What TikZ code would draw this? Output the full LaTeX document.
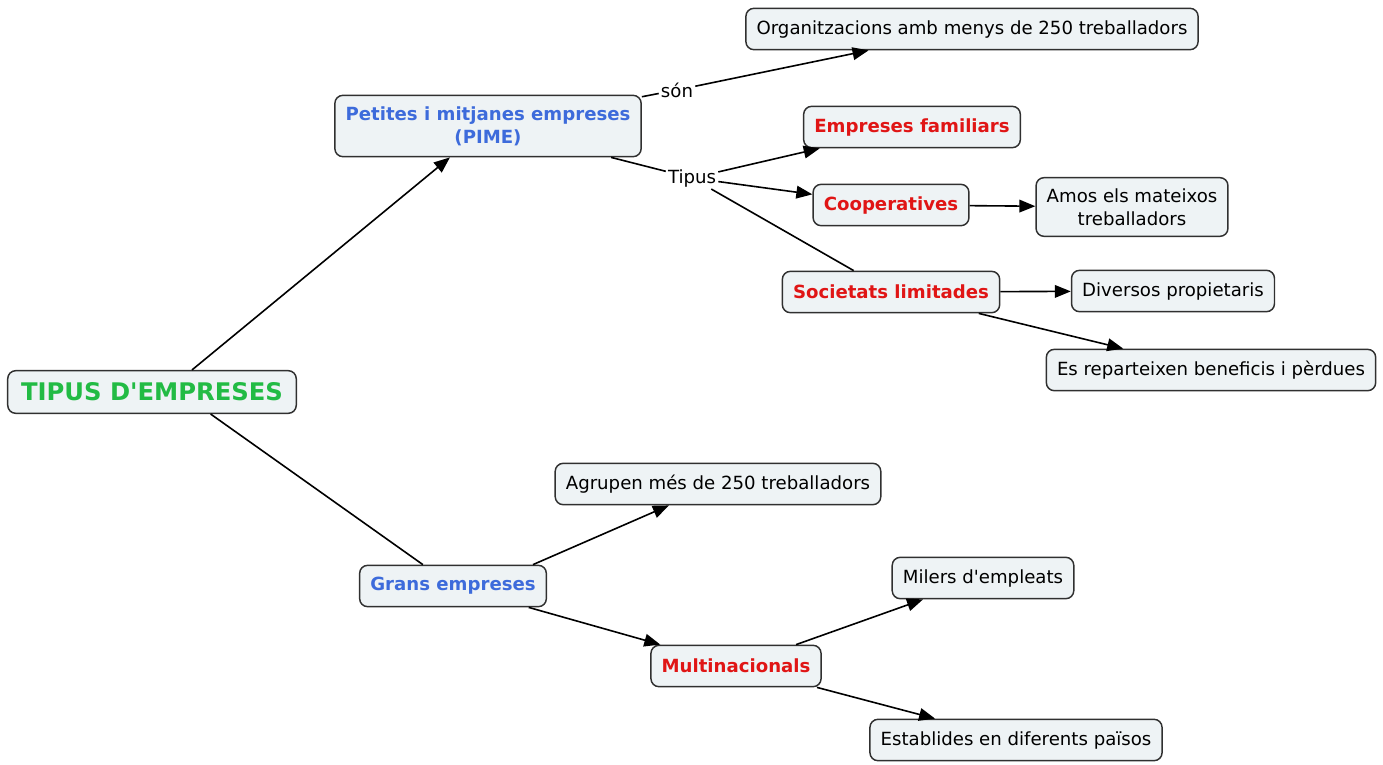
\documentclass[tikz,border=0pt]{standalone}
\usepackage{fontspec}
\setmainfont{DejaVu Sans}
\usetikzlibrary{arrows.meta}
\usepackage{xcolor}
\definecolor{boxfill}{HTML}{EEF3F5}
\definecolor{boxline}{HTML}{303030}
\definecolor{rootgreen}{HTML}{22BB44}
\definecolor{groupblue}{HTML}{3D6BDB}
\definecolor{typered}{HTML}{E01515}

\begin{document}
\begin{tikzpicture}[x=0.75pt, y=-0.75pt,
    concept/.style={draw=boxline, line width=1.1pt, rounded corners=6pt, fill=boxfill, inner xsep=8pt, minimum height=31pt, align=center, font=\fontsize{13.6}{17}\selectfont},
    twoline/.style={minimum height=46pt},
    root/.style={concept, font=\fontsize{18.2}{22}\selectfont\bfseries, text=rootgreen, minimum height=32pt, inner xsep=10pt},
    group/.style={concept, font=\fontsize{13.6}{17}\selectfont\bfseries, text=groupblue},
    kind/.style={concept, font=\fontsize{13.6}{17}\selectfont\bfseries, text=typered},
    linkword/.style={inner sep=1.5pt, font=\fontsize{13.6}{17}\selectfont},
    conn/.style={line width=1.2pt},
    arr/.style={conn, -{Triangle[length=12pt, width=9.5pt]}}
  ]
    \useasboundingbox (0,0) rectangle (1383,764);

    \node[root] (tipus) at (152,392) {TIPUS D\textquotesingle EMPRESES};

    % petites i mitjanes
    \node[group, twoline] (pime) at (488,126) {Petites i mitjanes empreses\\(PIME)};
    \node[linkword] (son) at (677,90) {són};
    \node[concept] (menys) at (972,29) {Organitzacions amb menys de 250 treballadors};
    \node[linkword] (tipuslink) at (692,178) {Tipus};
    \node[kind] (familiars) at (912,127) {Empreses familiars};
    \node[kind] (coop) at (891,205) {Cooperatives};
    \node[concept, twoline, minimum height=44pt] (amos) at (1132,207) {Amos els mateixos\\treballadors};
    \node[kind] (sl) at (891,292) {Societats limitades};
    \node[concept] (diversos) at (1173,291) {Diversos propietaris};
    \node[concept] (reparteixen) at (1211,370) {Es reparteixen beneficis i pèrdues};

    % grans
    \node[group] (grans) at (453,586) {Grans empreses};
    \node[concept] (agrupen) at (718,484) {Agrupen més de 250 treballadors};
    \node[kind] (multi) at (736,666) {Multinacionals};
    \node[concept] (milers) at (983,578) {Milers d\textquotesingle empleats};
    \node[concept] (establides) at (1016,740) {Establides en diferents països};

    \draw[arr] ([xshift=30pt]tipus.north) -- (pime);
    \draw[conn] ([xshift=44pt]tipus.south) -- (grans);

    \draw[conn] (pime) -- (son);
    \draw[arr] (son) -- (menys);
    \draw[conn] (pime) -- (tipuslink);
    \draw[arr] (tipuslink) -- (familiars);
    \draw[arr] (tipuslink) -- (coop);
    \draw[conn] (tipuslink) -- (sl);
    \draw[arr] (coop) -- (amos);
    \draw[arr] (sl) -- (diversos);
    \draw[arr] (sl) -- (reparteixen);

    \draw[arr] ([xshift=60pt]grans.north) -- (agrupen);
    \draw[arr] (grans) -- (multi);
    \draw[arr] (multi) -- (milers);
    \draw[arr] (multi) -- (establides);
  \end{tikzpicture}
\end{document}
